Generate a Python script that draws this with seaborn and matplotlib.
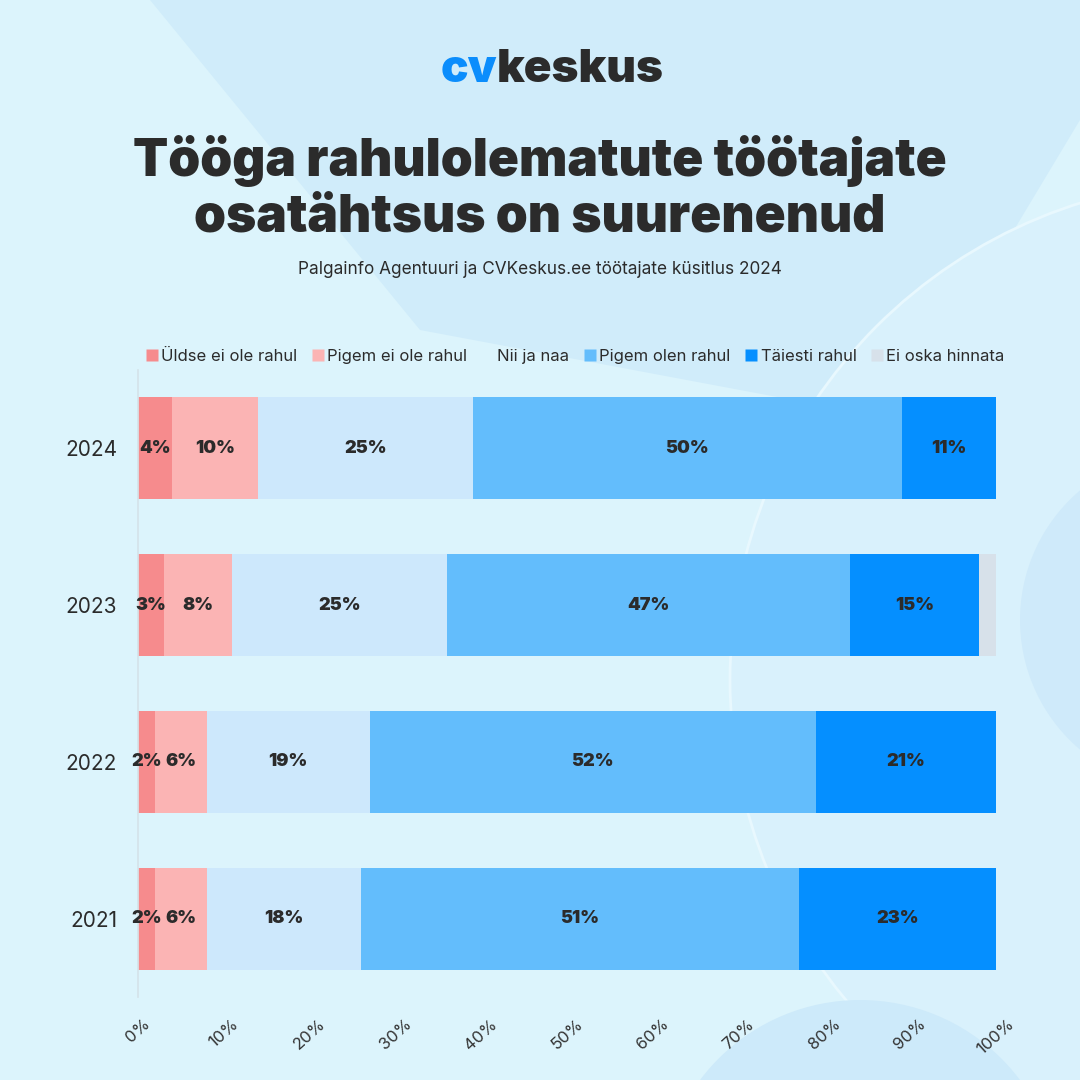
import matplotlib
matplotlib.use("Agg")
import matplotlib.pyplot as plt
import seaborn as sns
import pandas as pd
import numpy as np
from matplotlib.patches import Circle, Rectangle, Polygon
from matplotlib.lines import Line2D

years = ["2024", "2023", "2022", "2021"]
categories = ["Üldse ei ole rahul", "Pigem ei ole rahul", "Nii ja naa",
              "Pigem olen rahul", "Täiesti rahul", "Ei oska hinnata"]
v_uldse = [4, 3, 2, 2]
v_pigem_ei = [10, 8, 6, 6]
v_nii = [25, 25, 19, 18]
v_pigem_olen = [50, 47, 52, 51]
v_taiesti = [11, 15, 21, 23]
v_ei_oska = [0, 2, 0, 0]
colors = ["#F68B8D", "#FBB4B4", "#CDE8FC", "#63BDFC", "#058FFF", "#D7E1EA"]
legend_marker_colors = ["#F68B8D", "#FBB4B4", "#DCF4FC", "#63BDFC", "#058FFF", "#D7E1EA"]

title = "Tööga rahulolematute töötajate\nosatähtsus on suurenenud"
subtitle = "Palgainfo Agentuuri ja CVKeskus.ee töötajate küsitlus 2024"

series = [v_uldse, v_pigem_ei, v_nii, v_pigem_olen, v_taiesti, v_ei_oska]
df = pd.DataFrame({c: s for c, s in zip(categories, series)}, index=years)
cum = df.cumsum(axis=1)

sns.set_theme(style="white")
plt.rcParams["font.family"] = ["Inter", "DejaVu Sans"]

fig = plt.figure(figsize=(10.8, 10.8), dpi=100)
bg = "#DCF4FC"
fig.patch.set_facecolor(bg)

# decorative background
bgax = fig.add_axes([0, 0, 1, 1], zorder=-10)
bgax.set_xlim(0, 1080); bgax.set_ylim(1080, 0); bgax.axis("off")
bgax.add_patch(Rectangle((0, 0), 1080, 1080, color=bg))
bgax.add_patch(Polygon([[150, 0], [1080, 0], [1080, 120], [900, 420], [420, 330]],
                       closed=True, color="#CBE9FA", alpha=0.7, lw=0))
bgax.add_patch(Circle((1230, 680), 500, color="#D9F1FC", lw=0))
bgax.add_patch(Circle((1230, 680), 500, fill=False, ec="#E8F8FE", lw=2))
bgax.add_patch(Circle((1190, 620), 170, color="#CFEAFA", lw=0))
bgax.add_patch(Circle((860, 1200), 200, color="#CDEAFA", lw=0))

ax = fig.add_axes([138/1080, 1 - 997/1080, (996-138)/1080, (997-370)/1080])
ax.set_facecolor("none")

for i in range(len(categories) - 1, -1, -1):
    c = categories[i]
    d = pd.DataFrame({"year": years, "value": cum[c].values})
    sns.barplot(data=d, x="value", y="year", orient="h", color=colors[i],
                width=0.65, ax=ax, saturation=1, linewidth=0, zorder=2)

for j, y in enumerate(years):
    left = 0
    for i, c in enumerate(categories):
        v = df.loc[y, c]
        if v >= 1 and i < 5:
            ax.text(left + v / 2, j, f"{v}%", ha="center", va="center",
                    fontsize=13, fontweight="black", color="#2B2B2B", zorder=5)
        left += v

ax.set_xlim(0, 100)
ax.set_ylim(3.5, -0.5)
ax.set_xlabel(""); ax.set_ylabel("")
ax.set_xticks(np.arange(0, 101, 10))
ax.set_xticklabels([f"{t}%" for t in range(0, 101, 10)], rotation=42,
                   fontsize=12, color="#333333", ha="center")
ax.tick_params(axis="x", length=0, pad=14)
ax.tick_params(axis="y", length=0, pad=15, labelsize=15, labelcolor="#2B2B2B")
ax.set_yticks([0.5, 1.5, 2.5], minor=True)
ax.tick_params(axis="y", which="minor", length=6, color="#D5E3EA", width=1)
for s in ["top", "right", "bottom"]:
    ax.spines[s].set_visible(False)
ax.spines["left"].set_color("#D5E3EA")

# legend
handles = [Line2D([0], [0], marker="s", ls="", markersize=8,
                  markerfacecolor=legend_marker_colors[i], markeredgecolor="none")
           for i in range(len(categories))]
fig.legend(handles, categories, loc="center left", bbox_to_anchor=(132/1080, 1 - 356/1080),
           ncol=6, frameon=False, fontsize=12, handlelength=0.6, handletextpad=0.25,
           columnspacing=0.95, labelcolor="#2B2B2B")

# logo
fig.text(497/1080, 1 - 70/1080, "cv", ha="right", va="center", fontsize=33,
         fontweight="black", color="#0B8DFC")
fig.text(497/1080, 1 - 70/1080, "keskus", ha="left", va="center", fontsize=33,
         fontweight="black", color="#2B2B2B")

fig.text(0.5, 1 - 189/1080, title, ha="center", va="center", fontsize=37,
         fontweight="black", color="#2B2B2B", linespacing=1.18)
fig.text(0.5, 1 - 270/1080, subtitle, ha="center", va="center", fontsize=12.4,
         color="#2B2B2B")

fig.savefig("out.png", dpi=100, facecolor=fig.get_facecolor())
